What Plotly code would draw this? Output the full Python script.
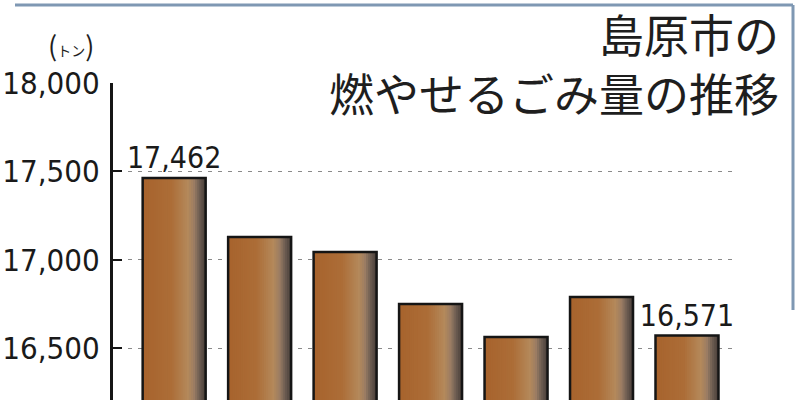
import plotly.graph_objects as go

# 島原市の燃やせるごみ量（トン）
years = [0, 1, 2, 3, 4, 5, 6]
amounts = [17462, 17128, 17043, 16749, 16562, 16789, 16571]
labels = ['17,462', '', '', '', '', '', '16,571']
y_ticks = [16500, 17000, 17500, 18000]

W, H = 800, 400
TOP = 83
bar_w = 0.737
num_font = 'Liberation Sans Narrow, DejaVu Sans Condensed, sans-serif'

def px_x(p):
    return p / W

def px_y(p):
    # 画面の行 -> paper y
    return (H - p) / (H - TOP)

# グラデーションの色の段
stops = [
    (0.00, (167, 99, 45)),
    (0.45, (172, 109, 55)),
    (0.72, (180, 137, 91)),
    (0.82, (154, 124, 99)),
    (0.90, (110, 94, 82)),
    (1.00, (70, 60, 56)),
]

def color_at(f):
    for (f0, c0), (f1, c1) in zip(stops, stops[1:]):
        if f0 <= f <= f1:
            t = (f - f0) / (f1 - f0)
            r, g, b = [round(a + (b_ - a) * t) for a, b_ in zip(c0, c1)]
            return f'rgb({r},{g},{b})'
    return 'rgb(70,60,56)'

fig = go.Figure()

# 右端まで伸ばした帯を順に重ねて継ぎ目を消す
n_strips = 30
for i in range(n_strips):
    a = i / n_strips
    fig.add_trace(go.Bar(
        x=years, y=amounts,
        width=bar_w * (1 - a),
        offset=-bar_w / 2 + bar_w * a,
        marker=dict(color=color_at(a + 0.5 / n_strips), line=dict(width=0)),
        hoverinfo='skip',
    ))

# 枠線と数値ラベル
fig.add_trace(go.Bar(
    x=years, y=amounts,
    width=bar_w, offset=-bar_w / 2,
    marker=dict(color='rgba(0,0,0,0)', line=dict(color='#151515', width=2.5)),
    text=labels, textposition='outside', cliponaxis=False,
    constraintext='none',
    textfont=dict(family=num_font, size=30, color='#1a1a1a'),
    hovertemplate='%{y:,}トン<extra></extra>',
))

fig.update_layout(
    width=W, height=H,
    barmode='overlay',
    showlegend=False,
    plot_bgcolor='white',
    paper_bgcolor='white',
    margin=dict(l=0, r=0, t=TOP, b=0),
    xaxis=dict(
        domain=[px_x(128), px_x(737)],
        range=[-0.54, 6.585],
        visible=False,
    ),
    yaxis=dict(
        range=[16206, 18000],
        anchor='free', position=px_x(111),
        tickvals=y_ticks, tickformat=',d',
        ticks='inside', ticklen=9, tickwidth=2, tickcolor='#151515',
        showline=True, linecolor='#151515', linewidth=3,
        showgrid=True, gridcolor='#8a8a8a', gridwidth=1, griddash='4px,6px',
        zeroline=False,
        ticklabelstandoff=4,
        tickfont=dict(family=num_font, size=31, color='#1a1a1a'),
    ),
)

# タイトル（2行）
fig.add_annotation(text='島原市の<br>燃やせるごみ量の推移',
                   xref='paper', yref='paper', align='right',
                   x=px_x(781), y=px_y(63), xanchor='right', yanchor='middle',
                   showarrow=False,
                   font=dict(family='Noto Sans CJK JP', size=45, color='#1e1e1e'))

# 単位
fig.add_annotation(text="(<span style='font-size:14px'>トン</span>)",
                   xref='paper', yref='paper', x=px_x(71), y=px_y(44),
                   xanchor='center', yanchor='middle', showarrow=False,
                   font=dict(family='Noto Sans CJK JP', size=27, color='#1e1e1e'))

# 外枠（上と右）
frame = '#7f98b3'
fig.add_shape(type='line', xref='paper', yref='paper',
              x0=px_x(15), x1=px_x(793), y0=px_y(5), y1=px_y(5),
              line=dict(color=frame, width=3))
fig.add_shape(type='line', xref='paper', yref='paper',
              x0=px_x(793), x1=px_x(793), y0=px_y(5), y1=px_y(310),
              line=dict(color=frame, width=3))

# ページの既定の余白を消して図を左上に合わせる
fig.write_html('out.html', config={'displayModeBar': False},
               post_script="document.body.style.margin='0';")
